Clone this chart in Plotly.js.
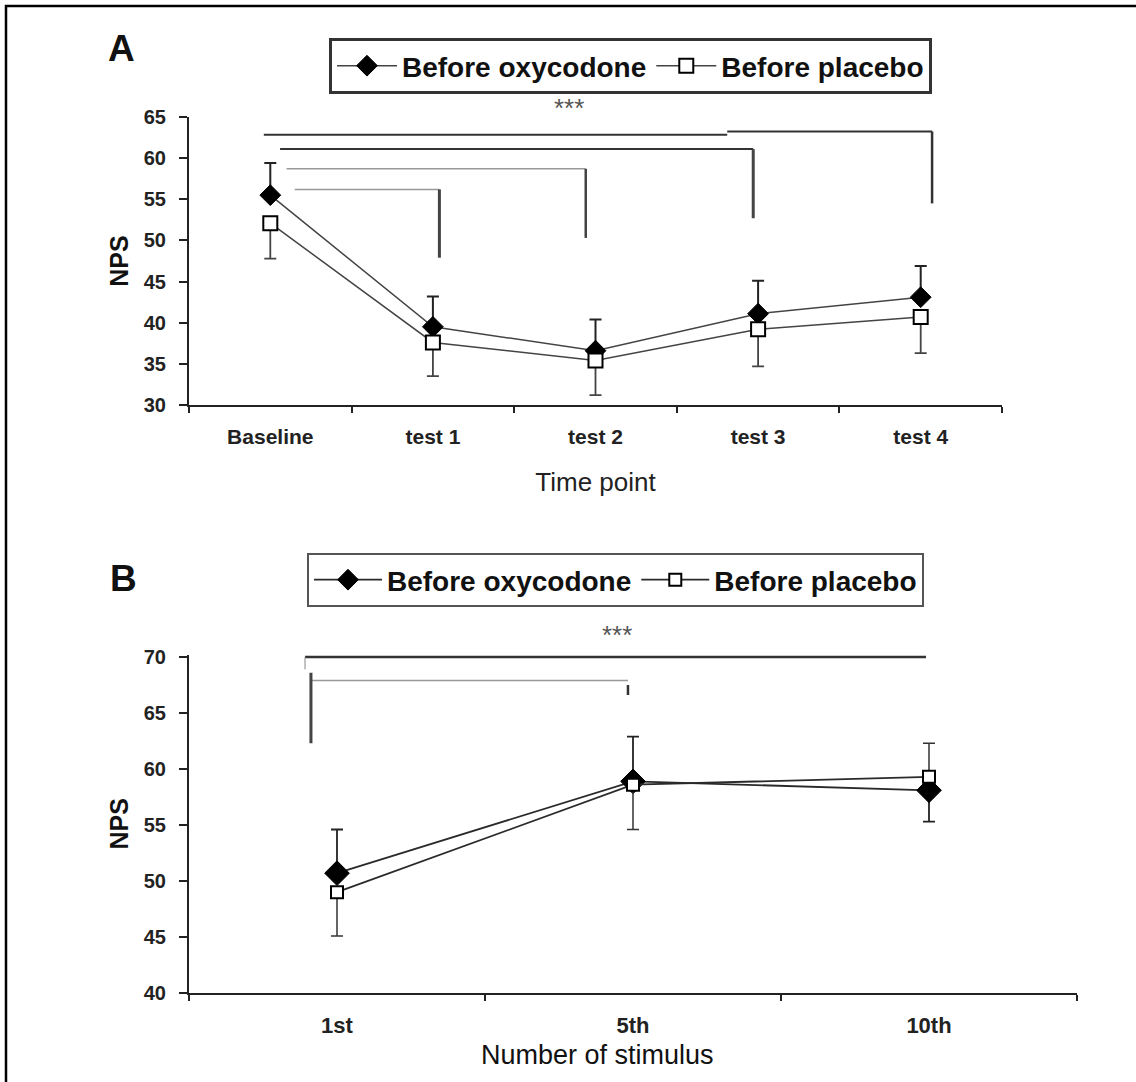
<!DOCTYPE html>
<html>
<head>
<meta charset="utf-8">
<script src="https://cdn.plot.ly/plotly-3.0.1.min.js"></script>
<style>
  html, body { margin: 0; padding: 0; background: #fff; }
  #chart { width: 1136px; height: 1082px; }
</style>
</head>
<body>
<div id="chart"></div>
<script>
// ---------- Panel A data ----------
const timePoints = ['Baseline', 'test 1', 'test 2', 'test 3', 'test 4'];
const oxyA = [55.5, 39.5, 36.6, 41.1, 43.1];
const oxyA_errPlus = [3.9, 3.7, 3.8, 4.0, 3.8];
const oxyA_errMinus = [0, 0, 0, 0, 0];
const plaA = [52.1, 37.6, 35.4, 39.2, 40.7];
const plaA_errPlus = [0, 0, 0, 0, 0];
const plaA_errMinus = [4.3, 4.1, 4.2, 4.5, 4.4];

// significance brackets panel A (x in category index units, y in NPS)
const bracketA_from = [-0.04, 0.06, 0.10, 0.15];
const bracketA_to   = [4.07, 2.97, 1.94, 1.04];
const bracketA_y    = [63.0, 61.1, 58.7, 56.2];
const bracketA_drop = [54.5, 52.7, 50.3, 47.9];
const starsA_label = '***';
const starsA_x = 1.84;

// ---------- Panel B data ----------
const stimuli = ['1st', '5th', '10th'];
const oxyB = [50.7, 58.9, 58.1];
const oxyB_errPlus = [3.9, 4.0, 0];
const oxyB_errMinus = [0, 0, 2.8];
const plaB = [49.0, 58.6, 59.3];
const plaB_errPlus = [0, 0, 3.0];
const plaB_errMinus = [3.9, 4.0, 0];

const bracketB_from = [-0.108, -0.088];
const bracketB_to   = [1.99, 0.983];
const bracketB_y    = [70.0, 67.9];
const bracketB_leftDrop  = [68.9, 62.3];
const bracketB_rightDrop = [70.0, 66.6];
const starsB_label = '***';
const starsB_x = 0.946;

const W = 1136, H = 1082;
const px = v => v / W;
const py = v => 1 - v / H;
const FONT = '"Liberation Sans", Arial, Helvetica, sans-serif';

const traces = [
  {
    x: timePoints, y: oxyA, name: 'Before oxycodone', type: 'scatter', mode: 'lines+markers',
    xaxis: 'x', yaxis: 'y', legend: 'legend',
    line: {color: '#444', width: 1.5},
    marker: {symbol: 'diamond', size: 16, color: '#000', line: {color: '#000', width: 1}},
    error_y: {type: 'data', symmetric: false, array: oxyA_errPlus, arrayminus: oxyA_errMinus,
              color: '#222', thickness: 2, width: 6}
  },
  {
    x: timePoints, y: plaA, name: 'Before placebo', type: 'scatter', mode: 'lines+markers',
    xaxis: 'x', yaxis: 'y', legend: 'legend',
    line: {color: '#444', width: 1.5},
    marker: {symbol: 'square', size: 14, color: '#fff', line: {color: '#000', width: 2}},
    error_y: {type: 'data', symmetric: false, array: plaA_errPlus, arrayminus: plaA_errMinus,
              color: '#444', thickness: 1.8, width: 6}
  },
  {
    x: stimuli, y: oxyB, name: 'Before oxycodone', type: 'scatter', mode: 'lines+markers',
    xaxis: 'x2', yaxis: 'y2', legend: 'legend2',
    line: {color: '#2a2a2a', width: 1.8},
    marker: {symbol: 'diamond', size: 19, color: '#000', line: {color: '#000', width: 1}},
    error_y: {type: 'data', symmetric: false, array: oxyB_errPlus, arrayminus: oxyB_errMinus,
              color: '#222', thickness: 1.8, width: 6}
  },
  {
    x: stimuli, y: plaB, name: 'Before placebo', type: 'scatter', mode: 'lines+markers',
    xaxis: 'x2', yaxis: 'y2', legend: 'legend2',
    line: {color: '#2a2a2a', width: 1.8},
    marker: {symbol: 'square', size: 12, color: '#fff', line: {color: '#000', width: 2}},
    error_y: {type: 'data', symmetric: false, array: plaB_errPlus, arrayminus: plaB_errMinus,
              color: '#333', thickness: 1.5, width: 6}
  }
];

const shapes = [];
// outer frame
shapes.push({type: 'rect', xref: 'paper', yref: 'paper', x0: px(6), y0: py(6), x1: 1.2, y1: -0.2,
             line: {color: '#000', width: 2.5}, fillcolor: 'rgba(0,0,0,0)', layer: 'above'});

// Panel A brackets
const aHoriz = [{c: '#333', w: 2}, {c: '#333', w: 2}, {c: '#999', w: 1.5}, {c: '#999', w: 1.5}];
const aVert  = [{c: '#333', w: 2.5}, {c: '#444', w: 3}, {c: '#444', w: 2.5}, {c: '#444', w: 3}];
for (let i = 0; i < bracketA_from.length; i++) {
  if (i === 0) {
    shapes.push({type: 'line', xref: 'x', yref: 'y', x0: bracketA_from[i], x1: 2.81,
                 y0: bracketA_y[i] - 0.15, y1: bracketA_y[i] - 0.15, line: {color: aHoriz[i].c, width: aHoriz[i].w}});
    shapes.push({type: 'line', xref: 'x', yref: 'y', x0: 2.81, x1: bracketA_to[i],
                 y0: bracketA_y[i] + 0.25, y1: bracketA_y[i] + 0.25, line: {color: aHoriz[i].c, width: aHoriz[i].w}});
    shapes.push({type: 'line', xref: 'x', yref: 'y', x0: bracketA_to[i], x1: bracketA_to[i],
                 y0: bracketA_y[i] + 0.25, y1: bracketA_drop[i], line: {color: aVert[i].c, width: aVert[i].w}});
  } else {
    shapes.push({type: 'line', xref: 'x', yref: 'y', x0: bracketA_from[i], x1: bracketA_to[i],
                 y0: bracketA_y[i], y1: bracketA_y[i], line: {color: aHoriz[i].c, width: aHoriz[i].w}});
    shapes.push({type: 'line', xref: 'x', yref: 'y', x0: bracketA_to[i], x1: bracketA_to[i],
                 y0: bracketA_y[i], y1: bracketA_drop[i], line: {color: aVert[i].c, width: aVert[i].w}});
  }
}

// Panel B brackets
const bHoriz = [{c: '#333', w: 2.5}, {c: '#999', w: 1.5}];
const bLeft  = [{c: '#999', w: 1.2}, {c: '#444', w: 3}];
const bRight = [{c: '#333', w: 0}, {c: '#333', w: 2.5}];
for (let i = 0; i < bracketB_from.length; i++) {
  shapes.push({type: 'line', xref: 'x2', yref: 'y2', x0: bracketB_from[i], x1: bracketB_to[i],
               y0: bracketB_y[i], y1: bracketB_y[i], line: {color: bHoriz[i].c, width: bHoriz[i].w}});
  shapes.push({type: 'line', xref: 'x2', yref: 'y2', x0: bracketB_from[i], x1: bracketB_from[i],
               y0: i === 0 ? bracketB_y[i] : bracketB_y[i] + 0.7, y1: bracketB_leftDrop[i],
               line: {color: bLeft[i].c, width: bLeft[i].w}});
  if (bRight[i].w > 0) {
    shapes.push({type: 'line', xref: 'x2', yref: 'y2', x0: bracketB_to[i], x1: bracketB_to[i],
                 y0: bracketB_y[i] - 0.4, y1: bracketB_rightDrop[i], line: {color: bRight[i].c, width: bRight[i].w}});
  }
}

const axisCommon = {
  showline: true, linecolor: '#222', linewidth: 2, mirror: false,
  ticks: 'outside', tickcolor: '#222', tickwidth: 2,
  showgrid: false, zeroline: false, fixedrange: true
};

const layout = {
  width: W, height: H,
  margin: {l: 0, r: 0, t: 0, b: 0},
  paper_bgcolor: '#fff', plot_bgcolor: '#fff',
  font: {family: FONT, color: '#111'},
  showlegend: true,
  xaxis: Object.assign({}, axisCommon, {
    domain: [px(189), px(1002)], anchor: 'y', type: 'category',
    range: [-0.5, 4.5], tickson: 'boundaries', ticklen: 6, ticklabelstandoff: 12,
    tickfont: {size: 21, weight: 'bold', family: FONT, color: '#222'},
    title: {text: 'Time point', font: {size: 26, family: FONT, color: '#222'}, standoff: 26}
  }),
  yaxis: Object.assign({}, axisCommon, {
    domain: [py(405), py(117)], anchor: 'x', range: [30, 65], tickvals: [30, 35, 40, 45, 50, 55, 60, 65],
    ticklen: 8, ticklabelstandoff: 9,
    tickfont: {size: 20, weight: 'bold', family: FONT, color: '#222'},
    title: {text: 'NPS', font: {size: 25, weight: 'bold', family: FONT, color: '#111'}, standoff: 8}
  }),
  xaxis2: Object.assign({}, axisCommon, {
    domain: [px(189), px(1077)], anchor: 'y2', type: 'category',
    range: [-0.5, 2.5], tickson: 'boundaries', ticklen: 6, ticklabelstandoff: 12,
    tickfont: {size: 22, weight: 'bold', family: FONT, color: '#222'}
  }),
  yaxis2: Object.assign({}, axisCommon, {
    domain: [py(993), py(654.8)], anchor: 'x2', range: [40, 70.2], tickvals: [40, 45, 50, 55, 60, 65, 70],
    ticklen: 8, ticklabelstandoff: 9,
    tickfont: {size: 20, weight: 'bold', family: FONT, color: '#222'},
    title: {text: 'NPS', font: {size: 25, weight: 'bold', family: FONT, color: '#111'}, standoff: 8}
  }),
  legend: {
    x: px(329), y: py(38), xanchor: 'left', yanchor: 'top', orientation: 'h',
    bordercolor: '#333', borderwidth: 3, bgcolor: '#fff', itemwidth: 60,
    font: {size: 28, weight: 'bold', family: FONT, color: '#111'}
  },
  legend2: {
    x: px(307), y: py(553), xanchor: 'left', yanchor: 'top', orientation: 'h',
    bordercolor: '#555', borderwidth: 2, bgcolor: '#fff', itemwidth: 68,
    font: {size: 28, weight: 'bold', family: FONT, color: '#111'}
  },
  shapes: shapes,
  annotations: [
    {text: 'A', xref: 'paper', yref: 'paper', x: px(121), y: py(48), xanchor: 'center', yanchor: 'middle',
     showarrow: false, font: {size: 37, weight: 'bold', family: FONT, color: '#111'}},
    {text: 'B', xref: 'paper', yref: 'paper', x: px(123), y: py(578), xanchor: 'center', yanchor: 'middle',
     showarrow: false, font: {size: 37, weight: 'bold', family: FONT, color: '#111'}},
    {text: starsA_label, xref: 'x', yref: 'paper', x: starsA_x, y: py(108), xanchor: 'center', yanchor: 'middle',
     showarrow: false, font: {size: 26, family: FONT, color: '#555'}},
    {text: starsB_label, xref: 'x2', yref: 'paper', x: starsB_x, y: py(635), xanchor: 'center', yanchor: 'middle',
     showarrow: false, font: {size: 26, family: FONT, color: '#555'}},
    {text: 'Number of stimulus', xref: 'paper', yref: 'paper', x: px(597), y: py(1055), xanchor: 'center', yanchor: 'middle',
     showarrow: false, font: {size: 27, family: FONT, color: '#111'}}
  ]
};

Plotly.newPlot('chart', traces, layout, {displayModeBar: false, staticPlot: true});
</script>
</body>
</html>
